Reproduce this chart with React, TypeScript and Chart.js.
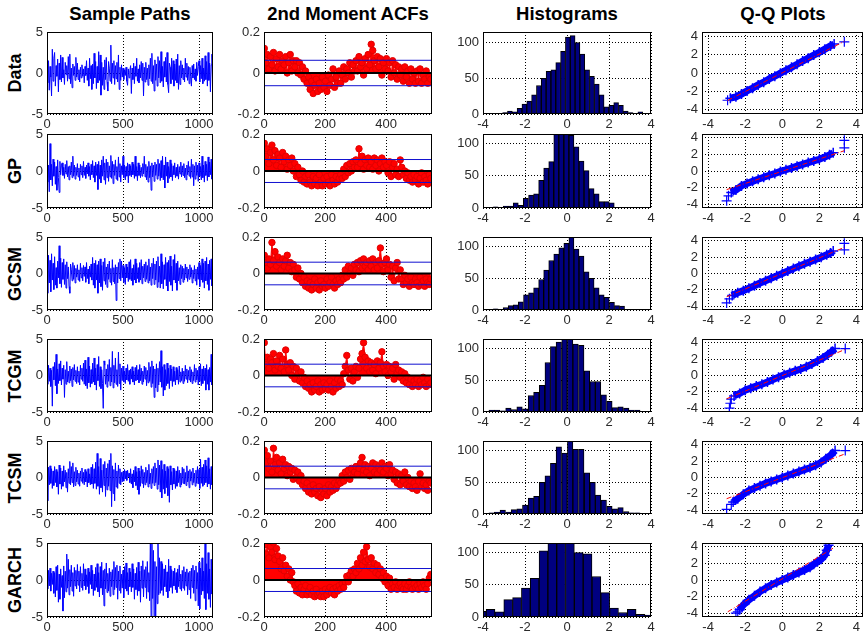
import React, { useEffect, useRef } from 'react';
import { Chart, registerables } from 'chart.js';

Chart.register(...registerables);

const FONT = '"Liberation Sans", Arial, Helvetica, sans-serif';
Chart.defaults.font.family = FONT;
Chart.defaults.font.size = 13;
Chart.defaults.color = '#222';

// ---------- labels ----------
const ROW_NAMES = ['Data', 'GP', 'GCSM', 'TCGM', 'TCSM', 'GARCH'];
const COL_TITLES = ['Sample Paths', '2nd Moment ACFs', 'Histograms', 'Q-Q Plots'];

// ---------- tick values ----------
const PATH_X_TICKS = [0, 500, 1000];
const PATH_Y_TICKS = [-5, 0, 5];
const ACF_X_TICKS = [0, 200, 400];
const ACF_Y_TICKS = [-0.2, 0, 0.2];
const HIST_X_TICKS = [-4, -2, 0, 2, 4];
const HIST_Y_TICKS = [0, 50, 100];
const QQ_TICKS = [-4, -2, 0, 2, 4];

// ---------- sample paths (one value every 5 steps) ----------
const PATH_STEP = 5;
const pathData = [
  0.3,-1.2,1.5,-2.1,0.8,-0.5,-2.8,2.9,-1.0,1.8,
  2.5,-1.6,0.9,-0.4,1.7,-2.3,1.2,-0.8,2.2,-1.1,
  1.9,-0.6,0.4,-1.4,1.3,-0.2,0.9,-1.0,2.0,-0.7,
  2.3,-1.3,0.6,-1.8,1.1,-0.3,0.8,-0.9,1.9,-0.5,
  1.2,-0.8,0.4,-1.1,0.7,-0.6,1.0,-0.4,0.5,-1.2,
  0.8,-0.3,1.5,-0.9,0.6,-1.6,1.8,-0.7,0.9,-2.0,
  1.1,-1.3,2.4,-0.6,1.4,-1.9,0.8,-1.2,2.6,-0.9,
  2.2,-2.7,1.3,-1.5,0.7,-2.0,1.6,-0.8,1.9,-1.1,
  -2.2,1.4,0.6,-1.0,3.4,-1.3,1.2,-0.6,1.5,-1.4,
  0.9,-0.7,1.3,-1.1,2.2,-2.0,0.7,-0.9,1.0,-0.5,
  0.6,-0.8,0.4,-0.3,0.7,-1.0,-1.5,0.5,-0.6,0.3,
  0.9,-2.5,0.6,-0.8,1.2,-1.3,0.8,-0.4,1.8,-1.0,
  0.5,-1.2,1.0,-0.6,1.4,-0.9,1.2,-2.8,0.7,-1.1,
  1.3,-0.8,0.6,-1.5,1.0,-0.7,1.8,-1.0,2.4,-1.3,
  0.9,-2.2,1.6,-0.9,1.1,-1.6,2.0,-0.6,1.5,-1.2,
  2.6,-1.0,0.8,-1.7,1.4,-0.5,1.9,-1.1,2.5,-1.4,
  -2.4,1.2,0.7,-1.3,1.8,-0.8,1.5,-1.6,1.1,-0.9,
  1.7,-1.2,2.3,-2.0,0.9,-1.4,1.5,-0.6,1.0,-0.8,
  0.6,-1.1,1.8,-0.5,1.2,-0.9,0.8,-1.3,0.7,-0.4,
  -1.6,0.9,-0.6,1.1,-0.8,0.5,-1.0,1.3,-0.3,0.8,
  1.5,-1.1,0.9,-0.7,1.8,-1.3,0.6,-1.0,2.1,-0.8,
  1.4,-1.6,2.5,-0.9,1.2,-2.3,1.0,2.3,-1.5,
];
const pathGP = [
  0.2,-1.5,0.8,-2.8,3.7,-1.2,0.9,-2.0,1.6,-0.7,
  1.2,-1.8,0.6,-2.6,1.5,-0.9,-2.9,1.3,-0.5,0.8,
  1.1,-0.6,0.5,-1.0,0.9,-0.4,1.4,-0.8,0.6,-1.2,
  0.7,-0.5,1.2,-0.9,2.0,-0.7,0.8,-1.1,0.5,-0.6,
  1.0,-0.8,0.4,-1.3,0.9,-0.5,0.7,-0.9,1.3,-0.6,
  0.5,-1.0,0.8,-0.4,1.1,-0.7,0.6,-1.2,0.9,-0.5,
  1.4,-0.9,0.7,-1.5,1.2,-0.6,0.9,-2.5,1.3,-1.1,
  0.8,-1.6,1.5,-0.7,2.0,-1.2,1.1,-1.8,1.6,-0.9,
  1.2,-1.4,0.7,-0.8,2.1,-1.0,1.3,-1.7,0.9,-0.6,
  1.5,-1.1,0.6,-1.3,1.9,-0.8,1.0,-1.5,0.7,-0.5,
  2.0,-0.9,0.8,-1.2,0.6,-0.7,1.1,-1.6,0.9,-0.6,
  0.7,-0.8,1.2,-0.5,0.9,-1.0,2.0,-0.7,0.6,-1.3,
  1.1,-0.6,0.8,-0.9,0.5,-0.7,1.0,-0.4,2.0,-0.8,
  0.9,-1.2,0.6,-1.5,1.3,-0.9,0.7,-2.6,1.1,-0.8,
  0.8,-1.4,1.2,-0.6,0.9,-1.1,1.6,-0.7,1.0,-1.3,
  1.4,-0.9,2.0,-1.2,0.8,-2.3,1.9,-0.7,1.2,-1.6,
  0.6,-1.0,1.5,-0.8,1.0,-1.3,0.7,-0.5,1.1,-0.9,
  0.5,-0.7,0.9,-1.1,0.6,-0.4,1.2,-0.8,0.7,-0.6,
  1.0,-0.9,0.4,-1.2,0.8,-0.5,1.3,-0.7,0.6,-1.0,
  1.6,-0.8,0.9,-2.0,0.7,-1.1,1.2,-0.6,0.8,-1.4,
  1.1,-0.7,0.6,-1.2,2.0,-0.9,0.8,-1.5,1.3,-0.6,
  0.9,-1.3,1.9,-0.8,1.2,-0.5,1.6,-1.1,0.7,
];
const pathGCSM = [
  0.4,-2.7,2.5,-1.3,1.8,-2.5,2.7,-0.9,1.4,-2.2,
  2.3,-1.6,0.8,-2.0,1.7,-0.6,3.8,-1.4,2.1,-1.9,
  1.5,-0.8,2.0,-1.5,1.2,-2.0,1.6,-0.7,0.9,-1.8,
  -2.7,1.3,0.6,-1.0,1.5,-0.8,1.1,-1.3,0.7,-0.5,
  1.2,-0.9,0.5,-1.1,1.4,-0.6,0.8,-1.0,1.1,-0.4,
  0.9,-1.2,1.5,-0.7,0.6,-1.4,1.0,-0.5,1.3,-0.9,
  2.2,-1.6,1.4,-2.0,1.8,-0.9,1.2,-2.7,1.7,-1.3,
  2.0,-1.8,1.1,-2.3,1.6,-1.0,2.1,-1.5,0.9,-1.9,
  1.3,-0.8,1.7,-1.2,0.7,-1.6,1.9,-1.1,0.8,-1.4,
  1.2,-3.7,0.9,-1.3,1.5,-0.7,2.0,-1.0,1.7,-0.6,
  1.1,-1.2,0.8,-1.5,1.3,-0.6,0.9,-1.1,1.6,-0.8,
  1.9,-1.0,0.7,-1.6,1.2,-0.9,2.0,-1.3,1.4,-0.7,
  0.8,-1.2,1.5,-0.9,1.9,-1.4,1.0,-0.6,1.3,-1.1,
  1.6,-0.8,1.1,-1.3,2.0,-1.0,0.9,-1.6,1.4,-0.7,
  2.1,-1.5,1.3,-0.9,1.7,-1.9,2.3,-1.2,1.0,-2.0,
  2.7,-1.4,1.6,-2.1,1.2,-0.8,2.2,-1.7,1.5,-2.4,
  1.8,-1.1,2.4,-1.6,1.0,-2.4,1.9,-0.9,2.6,-1.3,
  1.4,-2.3,1.7,-1.0,0.8,-1.5,1.2,-0.7,1.0,-1.2,
  0.7,-0.9,1.3,-0.6,0.9,-1.1,0.6,-0.8,1.2,-0.5,
  0.8,-1.3,0.5,-0.7,1.1,-1.0,0.6,-1.6,0.9,-0.8,
  1.5,-1.8,1.1,-0.9,2.0,-1.2,1.4,-2.0,1.7,-1.0,
  2.2,-1.5,1.3,-2.3,1.8,-0.8,2.0,-1.7,2.6,
];
const pathTCGM = [
  0.3,-1.2,1.4,-0.8,1.0,-1.5,0.7,-4.2,1.2,-0.6,
  1.8,-1.4,2.9,-2.5,0.9,-1.1,1.6,-0.7,2.0,-1.3,
  1.0,-0.5,1.4,-3.0,0.8,-1.2,1.9,-0.9,0.6,-1.0,
  1.3,-0.7,0.9,-1.5,1.1,-0.6,1.5,-0.8,0.7,-1.1,
  1.2,-0.9,0.6,-1.3,1.4,-0.5,1.0,-0.8,1.7,-1.2,
  2.1,-1.4,0.9,-1.8,2.5,-1.0,1.3,-1.6,0.8,-1.1,
  1.7,-0.9,2.4,-1.3,1.0,-2.0,1.5,-0.7,2.6,-1.5,
  1.2,-1.8,0.8,-1.1,-4.5,2.0,1.4,-1.2,0.9,-1.6,
  1.5,-0.8,2.2,-1.4,1.1,-0.9,3.3,-1.7,1.4,-1.0,
  2.4,-1.2,0.8,-1.5,3.2,-1.1,1.6,-2.0,1.0,-0.7,
  1.3,-0.9,0.6,-1.1,1.0,-0.6,1.5,-0.8,0.7,-1.2,
  0.9,-0.5,1.2,-0.9,0.6,-1.3,1.1,-0.7,1.4,-0.6,
  0.8,-1.0,1.5,-0.7,1.0,-1.2,0.6,-0.9,1.3,-0.5,
  1.1,-1.4,0.7,-1.0,1.8,-0.8,1.2,-1.6,2.0,-1.1,
  1.3,-3.0,0.9,-1.7,1.6,-2.2,1.0,-1.3,1.9,-0.9,
  3.4,-1.6,1.2,-2.8,1.5,-2.0,0.8,-1.4,1.7,-1.1,
  1.0,-1.8,1.4,-0.7,0.9,-1.5,1.2,-0.8,0.6,-1.3,
  1.1,-0.6,0.8,-1.2,1.3,-0.9,0.5,-0.7,1.0,-1.1,
  0.6,-0.8,1.4,-0.5,0.9,-1.0,0.7,-0.6,1.2,-0.9,
  0.8,-1.1,0.5,-0.7,1.5,-0.9,1.0,-0.6,0.7,-1.3,
  1.2,-0.8,1.6,-1.4,0.9,-1.1,1.3,-0.7,1.0,-2.0,
  1.5,-1.2,0.8,-2.0,1.1,-0.9,2.9,-1.3,1.6,
];
const pathTCSM = [
  0.5,-3.2,1.4,-1.0,1.6,-0.8,1.2,-1.5,0.9,-1.1,
  1.5,-0.7,1.1,-1.3,0.8,-2.3,1.7,-0.9,1.3,-1.6,
  0.9,-1.2,1.6,-0.6,1.0,-1.4,0.7,-2.0,1.2,-0.8,
  2.2,-1.0,1.5,-0.7,2.0,-1.3,0.8,-1.1,1.4,-0.6,
  1.0,-0.9,0.6,-1.2,0.9,-0.5,1.3,-0.8,0.7,-1.0,
  1.1,-0.6,0.8,-1.3,1.2,-0.7,0.5,-1.0,1.4,-0.9,
  1.8,-1.5,1.2,-0.8,2.1,-1.6,3.3,-1.2,1.5,-2.3,
  2.6,-1.4,1.0,-2.0,1.8,-1.1,2.2,-2.6,1.3,-1.7,
  1.9,-1.2,2.4,-1.8,3.3,-4.0,1.6,-2.2,1.1,-3.2,
  2.0,-1.3,0.9,-1.5,1.7,-0.8,1.2,-1.0,0.7,-0.6,
  0.8,-0.5,1.1,-0.2,0.9,-0.4,1.0,0.1,0.6,-0.7,
  1.2,-0.9,0.5,-1.4,1.0,-0.6,1.5,-1.1,0.8,-1.7,
  1.3,-2.3,0.9,-1.2,1.6,-0.8,1.1,-1.4,0.7,-1.0,
  1.4,-0.7,1.0,-1.3,1.8,-0.9,0.6,-1.5,1.2,-0.8,
  1.5,-1.1,2.0,-0.7,1.3,-1.6,2.4,-1.0,1.7,-2.0,
  2.3,-2.8,1.1,-1.6,1.8,-2.2,0.9,-1.4,1.5,-2.5,
  1.2,-3.4,1.6,-1.0,0.8,-1.7,1.3,-0.9,1.1,-1.5,
  0.9,-1.2,1.5,-0.7,1.0,-1.3,0.6,-1.0,1.4,-0.8,
  1.2,-0.9,0.7,-1.1,1.6,-0.6,0.9,-1.4,1.1,-0.5,
  0.8,-1.0,1.3,-0.7,0.6,-1.2,1.0,-0.8,1.5,-0.9,
  1.1,-1.5,2.5,-0.8,1.4,-1.2,1.8,-1.0,2.4,-0.7,
  1.6,-1.3,2.7,-0.9,1.2,-1.6,1.5,-1.0,0.8,
];
const pathGARCH = [
  0.5,-1.2,1.3,-0.8,1.6,-1.5,0.9,-0.6,1.2,-1.8,
  1.0,-2.3,1.8,-1.4,2.0,-3.0,0.8,-2.6,1.5,-1.0,
  0.6,-4.2,1.9,-2.4,1.2,-1.6,3.5,-1.1,2.8,-2.0,
  1.4,-0.9,2.0,-1.5,1.0,-2.2,1.7,-0.8,1.3,-1.2,
  2.1,-0.7,1.2,-1.6,1.8,-1.0,0.9,-1.4,2.2,-0.8,
  1.5,-1.3,0.7,-0.9,1.6,-1.8,1.1,-0.6,2.0,-1.2,
  1.3,-2.1,0.8,-1.4,1.7,-1.0,2.2,-1.6,1.0,-2.3,
  1.8,-1.1,2.4,-2.0,1.3,-3.5,1.5,-1.2,2.3,-1.7,
  0.9,-1.5,1.6,-2.2,1.1,-0.9,1.4,-2.0,2.5,-1.3,
  1.7,-1.0,2.0,-2.6,1.2,-1.4,1.9,-1.8,0.8,-1.1,
  1.3,-2.4,1.8,-1.2,2.3,-1.5,1.0,-2.0,1.6,-0.9,
  1.1,-1.6,2.2,-1.0,1.5,-2.6,0.9,-1.3,1.7,-2.1,
  2.4,-1.5,1.2,-3.0,1.9,-1.1,2.6,-2.3,1.4,-1.0,
  1.8,-2.5,2.5,-1.6,1.0,-2.8,5.5,-5.5,6.0,-2.5,
  4.0,-6.0,2.5,-5.5,1.8,-3.2,5.5,-2.0,3.0,-1.8,
  2.5,-1.4,2.2,-2.1,1.5,-0.9,2.0,-1.6,1.1,-2.4,
  2.8,-1.5,1.9,-1.0,1.4,-1.8,1.2,-0.8,1.6,-1.3,
  1.0,-1.7,1.5,-0.9,2.0,-1.2,0.8,-1.5,1.3,-1.1,
  1.8,-1.4,1.1,-0.8,1.5,-2.0,1.0,-1.3,1.2,-2.5,
  1.6,-1.0,2.0,-1.8,1.3,-2.8,1.9,-1.2,1.0,-3.5,
  2.4,-3.9,1.6,-2.0,3.0,-1.5,1.2,-2.5,5.5,-4.0,
  2.2,-1.8,3.7,-2.6,1.5,-3.7,2.8,-1.9,1.4,
];

// ---------- squared-return ACFs (one value every 5 lags) ----------
const ACF_STEP = 5;
const ACF_CONF = 0.062;
const acfData = [
  0.12,0.05,0.09,0.02,0.08,0.04,0.10,0.01,0.07,0.03,
  0.09,0.02,0.06,0.04,0.08,0.00,0.05,0.09,0.01,0.06,
  0.03,0.06,0.00,0.05,-0.01,0.03,-0.03,0.01,-0.05,-0.02,
  -0.08,-0.04,-0.10,-0.06,-0.03,-0.09,-0.05,-0.08,-0.02,-0.07,
  -0.04,-0.09,-0.01,-0.06,-0.03,0.02,-0.07,-0.02,-0.05,0.01,
  -0.05,-0.01,0.03,-0.03,0.02,0.00,0.05,-0.02,0.04,0.01,
  0.06,0.01,0.08,0.03,0.05,-0.01,0.07,0.02,0.09,0.04,
  0.14,0.11,0.06,0.02,0.08,0.03,0.07,-0.01,0.05,0.02,
  0.07,0.01,0.05,-0.02,0.06,0.00,0.04,-0.03,0.03,-0.01,
  0.02,-0.04,0.03,-0.02,0.01,-0.05,0.02,-0.03,0.00,-0.05,
  0.01,-0.04,0.02,-0.05,-0.01,-0.03,0.01,-0.05,-0.02,-0.03,
];
const acfGP = [
  0.15,0.08,0.12,0.04,0.10,0.14,0.06,0.11,0.03,0.09,
  0.07,0.02,0.10,0.05,0.08,0.01,0.06,0.03,0.07,0.00,
  0.04,-0.03,0.02,-0.02,-0.05,0.00,-0.06,-0.03,-0.07,-0.02,
  -0.06,-0.08,-0.03,-0.07,-0.04,-0.08,-0.02,-0.06,-0.08,-0.04,
  -0.07,-0.03,-0.06,-0.08,-0.02,-0.05,-0.07,-0.03,-0.06,-0.04,
  -0.02,-0.04,0.01,-0.03,0.03,-0.01,0.04,0.00,0.05,0.02,
  0.06,0.02,0.12,0.04,0.08,0.01,0.06,0.03,0.07,0.02,
  0.05,0.01,0.07,0.03,0.06,0.00,0.04,0.07,0.02,0.05,
  0.03,-0.01,0.05,-0.03,0.02,0.04,-0.02,0.01,-0.03,0.06,
  0.02,-0.02,0.00,-0.04,-0.01,-0.05,-0.03,-0.06,-0.02,-0.05,
  -0.03,-0.07,-0.04,-0.01,-0.06,-0.03,-0.05,-0.07,-0.02,-0.04,
];
const acfGCSM = [
  0.10,0.06,0.03,0.08,0.05,0.17,0.07,0.12,0.04,0.09,
  0.06,0.02,0.08,0.04,0.07,0.10,0.03,0.06,0.01,0.05,
  0.02,-0.02,0.03,-0.03,0.00,-0.05,-0.02,-0.07,-0.04,-0.08,
  -0.05,-0.09,-0.06,-0.03,-0.08,-0.05,-0.09,-0.04,-0.07,-0.06,
  -0.08,-0.03,-0.07,-0.05,-0.02,-0.06,-0.08,-0.04,-0.06,-0.03,
  -0.05,-0.01,-0.03,0.02,-0.02,0.04,0.00,0.03,-0.01,0.05,
  0.02,0.06,0.01,0.07,0.03,0.08,0.04,0.06,0.02,0.07,
  0.04,0.08,0.02,0.06,0.03,0.07,0.14,0.05,0.01,0.06,
  0.08,0.02,0.05,-0.02,0.04,-0.04,0.03,0.06,-0.03,0.02,
  -0.03,-0.06,-0.01,-0.05,-0.03,-0.07,-0.02,-0.05,-0.06,-0.03,
  -0.05,-0.07,-0.02,-0.06,-0.04,-0.07,-0.03,-0.05,-0.06,-0.03,
];
const acfTCGM = [
  0.18,0.06,0.10,0.04,0.09,0.07,0.12,0.03,0.08,0.05,
  0.11,0.04,0.09,0.02,0.14,0.06,0.03,0.07,0.00,0.05,
  -0.02,0.04,0.01,-0.03,0.02,-0.04,-0.01,-0.06,-0.03,-0.07,
  -0.05,-0.09,-0.04,-0.08,-0.06,-0.03,-0.09,-0.05,-0.08,-0.04,
  -0.07,-0.05,-0.08,-0.03,-0.06,-0.09,-0.04,-0.07,-0.02,-0.06,
  -0.03,-0.05,0.01,0.05,0.11,0.03,-0.02,0.04,-0.03,0.02,
  0.05,-0.01,0.04,0.09,0.12,0.18,0.10,0.04,0.08,0.02,
  0.07,0.03,0.06,0.01,0.08,0.04,0.07,0.13,0.05,0.02,
  0.06,0.00,0.05,0.02,0.04,-0.02,0.06,0.01,0.03,-0.01,
  0.02,-0.03,0.01,-0.04,-0.01,-0.05,-0.02,-0.06,-0.03,-0.05,
  -0.02,-0.06,-0.03,-0.05,-0.01,-0.04,-0.06,-0.02,-0.05,-0.04,
];
const acfTCSM = [
  0.15,0.08,0.12,0.05,0.09,0.03,0.16,0.07,0.11,0.04,
  0.08,0.02,0.10,0.05,0.07,0.01,0.06,0.03,0.05,-0.01,
  0.04,0.00,0.03,-0.02,0.01,-0.04,-0.02,-0.06,-0.03,-0.08,
  -0.05,-0.09,-0.04,-0.08,-0.06,-0.10,-0.05,-0.11,-0.07,-0.09,
  -0.06,-0.10,-0.04,-0.08,-0.05,-0.07,-0.03,-0.06,-0.04,-0.02,
  -0.03,0.01,-0.02,0.03,0.00,0.04,-0.01,0.05,0.02,0.03,
  0.06,0.02,0.05,0.08,0.11,0.04,0.07,0.03,0.06,0.01,
  0.05,0.08,0.03,0.07,0.02,0.06,0.04,0.08,0.03,0.06,
  0.05,0.01,0.07,0.02,0.04,-0.01,0.03,-0.03,0.02,-0.04,
  0.01,-0.02,0.03,-0.04,0.00,-0.05,-0.02,-0.06,-0.03,-0.05,
  -0.07,-0.02,0.02,-0.05,-0.03,-0.06,-0.04,-0.07,-0.02,-0.03,
];
const acfGARCH = [
  0.20,0.14,0.19,0.12,0.18,0.15,0.20,0.11,0.17,0.13,
  0.10,0.06,0.12,0.05,0.08,0.02,0.06,0.00,0.04,-0.01,
  -0.03,-0.06,-0.02,-0.07,-0.04,-0.08,-0.05,-0.03,-0.08,-0.06,
  -0.04,-0.08,-0.06,-0.09,-0.05,-0.08,-0.07,-0.09,-0.06,-0.09,
  -0.05,-0.08,-0.06,-0.04,-0.07,-0.05,-0.08,-0.04,-0.06,-0.03,
  -0.05,-0.02,-0.04,-0.01,0.02,-0.01,0.03,0.05,0.02,0.06,
  0.04,0.09,0.06,0.12,0.08,0.15,0.10,0.18,0.11,0.07,
  0.12,0.06,0.09,0.04,0.08,0.03,0.06,0.01,0.04,-0.01,
  0.02,-0.03,0.01,-0.05,-0.02,-0.04,-0.01,-0.05,-0.03,-0.02,
  -0.04,-0.05,-0.02,-0.05,-0.03,-0.01,-0.04,-0.05,-0.02,-0.04,
  -0.03,-0.05,-0.02,-0.04,-0.01,-0.03,-0.05,-0.02,0.01,0.03,
];

// ---------- histograms: bin centres and counts ----------
const histDataX = [-2.95,-2.72,-2.49,-2.26,-2.03,-1.80,-1.57,-1.34,-1.11,-0.88,-0.65,-0.42,-0.19,0.04,0.27,0.50,0.73,0.96,1.19,1.42,1.65,1.88,2.11,2.34,2.57,2.80,3.03,3.26,3.49];
const histDataY = [2,4,3,8,14,18,27,40,50,60,62,72,88,108,110,100,84,62,53,42,27,10,12,16,12,4,2,0,3];
const histGPX = [-3.40,-3.16,-2.92,-2.68,-2.44,-2.20,-1.96,-1.71,-1.47,-1.23,-0.99,-0.75,-0.51,-0.27,-0.03,0.21,0.45,0.69,0.93,1.17,1.41,1.65,1.89,2.13,2.37,2.61,2.85,3.09,3.33,3.57];
const histGPY = [2,0,3,3,8,4,15,20,22,43,62,72,115,115,117,113,95,73,58,30,22,10,10,8,0,1,0,0,1,1];
const histGCSMX = [-3.64,-3.40,-3.16,-2.92,-2.68,-2.44,-2.20,-1.95,-1.71,-1.47,-1.23,-0.99,-0.75,-0.51,-0.27,-0.03,0.21,0.45,0.69,0.93,1.17,1.41,1.65,1.89,2.14,2.38,2.62,2.86,3.10,3.34];
const histGCSMY = [1,2,0,4,7,8,13,24,27,35,48,63,78,88,98,105,117,96,85,60,50,35,24,20,12,7,6,1,1,0];
const histTCGMX = [-3.86,-3.59,-3.33,-3.06,-2.79,-2.53,-2.26,-1.99,-1.72,-1.46,-1.19,-0.92,-0.66,-0.39,-0.12,0.15,0.41,0.68,0.95,1.22,1.48,1.75,2.02,2.28,2.55,2.82,3.08,3.35];
const histTCGMY = [1,3,3,2,6,4,8,5,26,31,42,78,103,110,117,115,107,105,65,48,48,27,17,7,8,6,3,3];
const histTCSMX = [-3.86,-3.59,-3.33,-3.06,-2.79,-2.53,-2.26,-1.99,-1.72,-1.46,-1.19,-0.92,-0.66,-0.39,-0.12,0.15,0.41,0.68,0.95,1.22,1.48,1.75,2.02,2.28,2.55,2.82,3.08,3.35];
const histTCSMY = [1,2,3,6,3,7,8,14,25,28,50,60,80,106,96,117,102,102,65,50,30,22,12,8,10,4,2,2];
const histGARCHX = [-4.06,-3.64,-3.22,-2.80,-2.38,-1.96,-1.54,-1.12,-0.70,-0.28,0.14,0.56,0.98,1.40,1.82,2.24,2.66,3.08,3.50,3.92];
const histGARCHY = [9,12,8,27,30,45,60,103,125,125,125,100,98,63,38,14,7,12,4,3];

// ---------- Q-Q plots ----------
const qqDataX = [-2.8,-2.5,-2.2,-1.9,-1.6,-1.3,-1.0,-0.7,-0.4,-0.1,0.2,0.5,0.8,1.1,1.4,1.7,2.0,2.3,2.6,2.8];
const qqDataY = [-2.75,-2.6,-2.3,-1.95,-1.65,-1.3,-1.0,-0.65,-0.35,-0.02,0.3,0.62,0.95,1.3,1.62,1.95,2.25,2.6,2.95,3.15];
const qqDataTailX = [-2.95,3.35];
const qqDataTailY = [-2.97,3.4];
const qqDataRefX = [-2.95,3.35];
const qqDataRefY = [-3.0,3.45];

const qqGPX = [-2.75,-2.5,-2.2,-1.9,-1.6,-1.3,-1.0,-0.7,-0.4,-0.1,0.2,0.5,0.8,1.1,1.4,1.7,2.0,2.3,2.55,2.75];
const qqGPY = [-2.6,-2.3,-1.8,-1.5,-1.25,-1.0,-0.75,-0.52,-0.3,-0.05,0.15,0.36,0.58,0.8,1.02,1.22,1.42,1.7,1.95,2.2];
const qqGPTailX = [-3.0,-2.9,3.35,3.35];
const qqGPTailY = [-3.6,-3.0,3.7,2.8];
const qqGPRefX = [-3.0,3.35];
const qqGPRefY = [-2.25,2.45];

const qqGCSMX = [-2.7,-2.4,-2.1,-1.8,-1.5,-1.2,-0.9,-0.6,-0.3,0,0.3,0.6,0.9,1.2,1.5,1.8,2.1,2.4,2.6,2.75];
const qqGCSMY = [-2.7,-2.35,-2.1,-1.8,-1.5,-1.17,-0.88,-0.58,-0.29,0,0.3,0.6,0.9,1.18,1.45,1.72,2.0,2.3,2.5,2.75];
const qqGCSMTailX = [-3.0,-2.85,3.35,3.35];
const qqGCSMTailY = [-3.6,-3.1,3.7,2.9];
const qqGCSMRefX = [-3.0,3.35];
const qqGCSMRefY = [-2.85,3.2];

const qqTCGMX = [-2.6,-2.3,-2.0,-1.7,-1.4,-1.1,-0.8,-0.5,-0.2,0.1,0.4,0.7,1.0,1.3,1.6,1.9,2.2,2.45,2.65,2.85];
const qqTCGMY = [-2.5,-2.2,-1.8,-1.55,-1.3,-1.07,-0.8,-0.5,-0.2,0.08,0.33,0.57,0.8,1.08,1.4,1.78,2.15,2.55,2.9,3.3];
const qqTCGMTailX = [-2.85,-2.85,-2.8,-2.75,3.4];
const qqTCGMTailY = [-4.6,-4.0,-3.4,-2.9,3.3];
const qqTCGMRefX = [-3.0,3.4];
const qqTCGMRefY = [-2.85,3.2];

const qqTCSMX = [-2.65,-2.4,-2.1,-1.8,-1.5,-1.2,-0.9,-0.6,-0.3,0,0.3,0.6,0.9,1.2,1.5,1.8,2.1,2.35,2.6,2.85];
const qqTCSMY = [-3.0,-2.6,-2.05,-1.6,-1.3,-1.0,-0.72,-0.48,-0.24,0,0.24,0.48,0.72,0.97,1.2,1.5,1.85,2.3,2.7,3.3];
const qqTCSMTailX = [-3.0,-2.75,3.4];
const qqTCSMTailY = [-3.9,-3.3,3.3];
const qqTCSMRefX = [-3.0,3.4];
const qqTCSMRefY = [-2.6,2.9];

const qqGARCHX = [-2.3,-2.1,-1.8,-1.5,-1.2,-0.9,-0.6,-0.3,0,0.3,0.6,0.9,1.2,1.5,1.7,1.9,2.1,2.3,2.4,2.5];
const qqGARCHY = [-3.6,-3.0,-2.4,-1.9,-1.4,-1.0,-0.6,-0.3,0,0.3,0.6,0.9,1.2,1.55,1.9,2.2,2.5,3.0,3.6,4.2];
const qqGARCHTailX = [-2.5,-2.4,2.55];
const qqGARCHTailY = [-4.0,-3.85,4.6];
const qqGARCHRefX = [-2.94,2.74];
const qqGARCHRefY = [-3.84,3.84];

const PATHS = [pathData, pathGP, pathGCSM, pathTCGM, pathTCSM, pathGARCH];
const ACFS = [acfData, acfGP, acfGCSM, acfTCGM, acfTCSM, acfGARCH];
const HISTS = [
  [histDataX, histDataY], [histGPX, histGPY], [histGCSMX, histGCSMY],
  [histTCGMX, histTCGMY], [histTCSMX, histTCSMY], [histGARCHX, histGARCHY],
];
const QQS = [
  [qqDataX, qqDataY, qqDataTailX, qqDataTailY, qqDataRefX, qqDataRefY],
  [qqGPX, qqGPY, qqGPTailX, qqGPTailY, qqGPRefX, qqGPRefY],
  [qqGCSMX, qqGCSMY, qqGCSMTailX, qqGCSMTailY, qqGCSMRefX, qqGCSMRefY],
  [qqTCGMX, qqTCGMY, qqTCGMTailX, qqTCGMTailY, qqTCGMRefX, qqTCGMRefY],
  [qqTCSMX, qqTCSMY, qqTCSMTailX, qqTCSMTailY, qqTCSMRefX, qqTCSMRefY],
  [qqGARCHX, qqGARCHY, qqGARCHTailX, qqGARCHTailY, qqGARCHRefX, qqGARCHRefY],
];

// ---------- layout ----------
const COL_LEFT = [47, 264, 483, 702];
const COL_W = [166, 168, 168, 162];
const ROW_TOP = [32, 134, 237, 339, 441, 543];
const ROW_H = [82, 74, 73, 73, 73, 74];
const PAD_L = 45;
const PAD_T = 8;
const PAD_R = 5;
const PAD_B = 22;

const fmt = (v: number) => String(Math.round(v * 100) / 100);
const zip = (xs: number[], ys: number[]) => xs.map((x, i) => ({ x, y: ys[i] }));

function mkScale(axis: 'x' | 'y', min: number, max: number, ticks: number[]) {
  return {
    type: 'linear',
    min,
    max,
    offset: false,
    afterBuildTicks: (s: any) => {
      s.ticks = ticks.map((v) => ({ value: v }));
    },
    afterFit: (s: any) => {
      if (axis === 'x') s.height = PAD_B;
      else s.width = PAD_L;
      s.paddingLeft = 0;
      s.paddingRight = 0;
      s.paddingTop = 0;
      s.paddingBottom = 0;
    },
    ticks: {
      color: '#2a2a2a',
      font: { size: 13, family: FONT },
      padding: axis === 'x' ? 3 : 4,
      maxRotation: 0,
      minRotation: 0,
      autoSkip: false,
      callback: (v: any) => fmt(Number(v)),
    },
    grid: { color: '#000', lineWidth: 1, drawTicks: false, offset: false },
    border: { display: false, dash: [1, 2] },
  };
}

const boxPlugin = {
  id: 'matlabBox',
  afterDatasetsDraw(chart: any) {
    const { ctx, chartArea: a } = chart;
    ctx.save();
    ctx.setLineDash([]);
    ctx.strokeStyle = '#000';
    ctx.lineWidth = 1;
    ctx.strokeRect(Math.round(a.left) + 0.5, Math.round(a.top) + 0.5, Math.round(a.right - a.left) - 1, Math.round(a.bottom - a.top) - 1);
    ctx.restore();
  },
};

function makeConfig(r: number, c: number): any {
  const base = {
    animation: false,
    responsive: false,
    devicePixelRatio: 1,
    events: [],
    layout: { padding: { left: 0, top: PAD_T, right: PAD_R, bottom: 0 } },
    plugins: { legend: { display: false }, tooltip: { enabled: false } },
  };
  if (c === 0) {
    const vals = PATHS[r];
    return {
      type: 'line',
      data: {
        datasets: [
          {
            data: vals.map((y, i) => ({ x: i * PATH_STEP, y })),
            borderColor: '#0000ff',
            borderWidth: 1,
            pointRadius: 0,
            tension: 0,
          },
        ],
      },
      options: {
        ...base,
        scales: { x: mkScale('x', 0, 1092, PATH_X_TICKS), y: mkScale('y', -5, 5, PATH_Y_TICKS) },
      },
      plugins: [boxPlugin],
    };
  }
  if (c === 1) {
    const vals = ACFS[r];
    const xMax = 550;
    return {
      type: 'line',
      data: {
        datasets: [
          { data: [{ x: 0, y: 0 }, { x: xMax, y: 0 }], borderColor: '#000', borderWidth: 2, pointRadius: 0 },
          { data: [{ x: 0, y: ACF_CONF }, { x: xMax, y: ACF_CONF }], borderColor: '#1010d0', borderWidth: 1, pointRadius: 0 },
          { data: [{ x: 0, y: -ACF_CONF }, { x: xMax, y: -ACF_CONF }], borderColor: '#1010d0', borderWidth: 1, pointRadius: 0 },
          {
            data: vals.map((y, i) => ({ x: i * ACF_STEP + 1, y })),
            borderColor: '#ff0000',
            backgroundColor: '#ff0000',
            borderWidth: 1,
            fill: 'origin',
            tension: 0,
            pointRadius: 3.2,
            pointBackgroundColor: '#ff0000',
            pointBorderColor: '#e00000',
            pointBorderWidth: 1,
          },
        ],
      },
      options: {
        ...base,
        scales: { x: mkScale('x', 0, xMax, ACF_X_TICKS), y: mkScale('y', -0.2, 0.2, ACF_Y_TICKS) },
      },
      plugins: [boxPlugin],
    };
  }
  if (c === 2) {
    const [xs, ys] = HISTS[r];
    return {
      type: 'bar',
      data: {
        datasets: [
          {
            data: zip(xs, ys),
            backgroundColor: '#000080',
            borderColor: '#000000',
            borderWidth: 1,
            barPercentage: 1,
            categoryPercentage: 1,
          },
        ],
      },
      options: {
        ...base,
        scales: { x: mkScale('x', -4, 4, HIST_X_TICKS), y: mkScale('y', 0, 115, HIST_Y_TICKS) },
      },
      plugins: [boxPlugin],
    };
  }
  const [bx, by, tx, ty, rx, ry] = QQS[r];
  return {
    type: 'line',
    data: {
      datasets: [
        { data: zip(rx, ry), borderColor: '#ff0000', borderWidth: 1, borderDash: [5, 2, 1, 2], pointRadius: 0 },
        {
          data: zip(tx, ty),
          showLine: false,
          pointStyle: 'cross',
          pointRadius: 5,
          pointBorderColor: '#0000ff',
          pointBorderWidth: 1.2,
        },
        {
          data: zip(bx, by),
          borderColor: '#0000ff',
          borderWidth: 7,
          tension: 0,
          pointStyle: 'cross',
          pointRadius: 5,
          pointBorderColor: '#0000ff',
          pointBorderWidth: 1.5,
        },
      ],
    },
    options: {
      ...base,
      scales: { x: mkScale('x', -4.33, 4.33, QQ_TICKS), y: mkScale('y', -4.47, 4.47, QQ_TICKS) },
    },
    plugins: [boxPlugin],
  };
}

function Cell({ r, c }: { r: number; c: number }) {
  const ref = useRef<HTMLCanvasElement>(null);
  const width = COL_W[c] + PAD_L + PAD_R;
  const height = ROW_H[r] + PAD_T + PAD_B;
  useEffect(() => {
    const chart = new Chart(ref.current as HTMLCanvasElement, makeConfig(r, c));
    return () => chart.destroy();
  }, [r, c]);
  return (
    <canvas
      ref={ref}
      width={width}
      height={height}
      style={{ position: 'absolute', left: COL_LEFT[c] - PAD_L, top: ROW_TOP[r] - PAD_T, width, height }}
    />
  );
}

export default function App() {
  const cells: any[] = [];
  for (let r = 0; r < 6; r++) for (let c = 0; c < 4; c++) cells.push(<Cell key={`${r}-${c}`} r={r} c={c} />);
  return (
    <div style={{ position: 'absolute', left: 0, top: 0, width: 865, height: 639, overflow: 'hidden', background: '#fff', fontFamily: FONT, color: '#000' }}>
      {COL_TITLES.map((t, c) => (
        <div
          key={t}
          style={{
            position: 'absolute',
            left: COL_LEFT[c] + COL_W[c] / 2,
            top: 4,
            transform: 'translateX(-50%)',
            fontSize: 18.5,
            fontWeight: 'bold',
            lineHeight: '20px',
            whiteSpace: 'nowrap',
          }}
        >
          {t}
        </div>
      ))}
      {ROW_NAMES.map((n, r) => (
        <div
          key={n}
          style={{
            position: 'absolute',
            left: 15,
            top: ROW_TOP[r] + ROW_H[r] / 2,
            transform: 'translate(-50%, -50%) rotate(-90deg)',
            fontSize: 18,
            fontWeight: 'bold',
            lineHeight: '20px',
            whiteSpace: 'nowrap',
          }}
        >
          {n}
        </div>
      ))}
      {cells}
    </div>
  );
}
